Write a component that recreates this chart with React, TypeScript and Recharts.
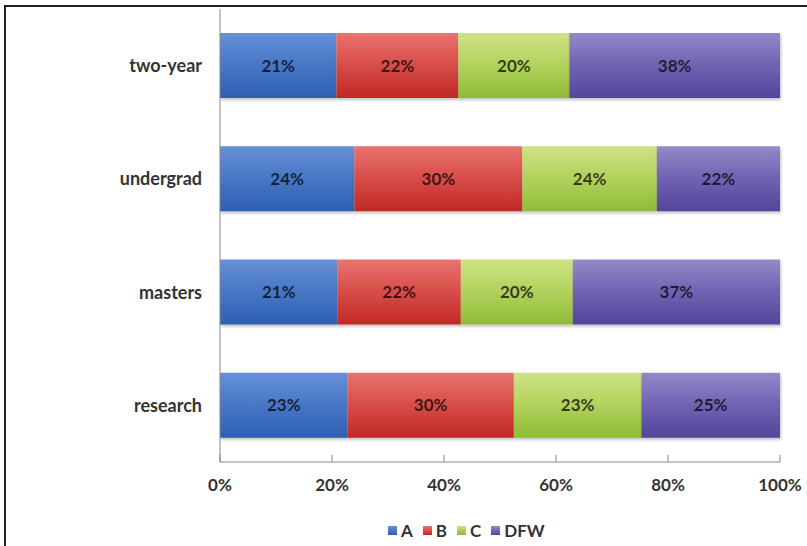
import { BarChart, Bar, XAxis, YAxis, LabelList } from 'recharts';

const categories = ['two-year', 'undergrad', 'masters', 'research'];
const seriesA = [21, 24, 21, 23];
const seriesB = [22, 30, 22, 30];
const seriesC = [20, 24, 20, 23];
const seriesDFW = [38, 22, 37, 25];
const xTicks = [0, 0.2, 0.4, 0.6, 0.8, 1];

const series = [
  { key: 'A', top: '#6690d8', mid: '#4a79c7', bottom: '#2c5fb3' },
  { key: 'B', top: '#ea7370', mid: '#d9504c', bottom: '#c12825' },
  { key: 'C', top: '#cde384', mid: '#b5d360', bottom: '#8fbb36' },
  { key: 'DFW', top: '#928ac9', mid: '#7266b4', bottom: '#52459b' },
];

const data = categories.map((name, i) => ({
  name,
  A: seriesA[i],
  B: seriesB[i],
  C: seriesC[i],
  DFW: seriesDFW[i],
}));

const FONT = "Lato, 'Open Sans', sans-serif";

export default function App() {
  return (
    <div style={{ position: 'relative', width: 807, height: 546, background: '#fff' }}>
      <style>{`body{margin:0}`}</style>
      {/* frame of the scanned figure, cut off at right and bottom */}
      <div
        style={{
          position: 'absolute',
          left: 4,
          top: 5,
          width: 803,
          height: 541,
          borderTop: '2px solid #222',
          borderLeft: '2px solid #222',
          pointerEvents: 'none',
        }}
      />
      <BarChart
        width={807}
        height={546}
        data={data}
        layout="vertical"
        stackOffset="expand"
        barSize={65}
        margin={{ top: 9, right: 27, left: 0, bottom: 54 }}
      >
        <defs>
          {series.map(s => (
            <linearGradient key={s.key} id={`grad${s.key}`} x1="0" y1="0" x2="0" y2="1">
              <stop offset="0%" stopColor={s.top} />
              <stop offset="45%" stopColor={s.mid} />
              <stop offset="100%" stopColor={s.bottom} />
            </linearGradient>
          ))}
          <filter id="barShadow" x="-5%" y="-10%" width="110%" height="130%">
            <feDropShadow dx="1" dy="2" stdDeviation="1.5" floodColor="#000" floodOpacity="0.25" />
          </filter>
        </defs>
        <XAxis
          type="number"
          domain={[0, 1]}
          ticks={xTicks}
          tickFormatter={(v: number) => `${Math.round(v * 100)}%`}
          stroke="#888"
          tickSize={-7}
          tickMargin={24}
          height={30}
          tick={{ fontFamily: FONT, fontSize: 17, fontWeight: 700, fill: '#333' }}
          interval={0}
        />
        <YAxis
          type="category"
          dataKey="name"
          width={220}
          stroke="#888"
          tickLine={false}
          tickMargin={12}
          tick={{ fontFamily: FONT, fontSize: 18, fontWeight: 700, fill: '#333' }}
        />
        {series.map(s => (
          <Bar
            key={s.key}
            dataKey={s.key}
            stackId="x"
            fill={`url(#grad${s.key})`}
            filter="url(#barShadow)"
            isAnimationActive={false}
          >
            <LabelList
              dataKey={s.key}
              position="center"
              formatter={(v: number) => `${v}%`}
              style={{ fontFamily: FONT, fontSize: 17, fontWeight: 700, fill: '#000', fillOpacity: 0.72 }}
            />
          </Bar>
        ))}
      </BarChart>
      <div
        style={{
          position: 'absolute',
          left: 388,
          top: 520,
          display: 'flex',
          alignItems: 'center',
          fontFamily: FONT,
          fontSize: 17,
          fontWeight: 700,
          color: '#333',
        }}
      >
        {series.map(s => (
          <div key={s.key} style={{ display: 'flex', alignItems: 'center', marginRight: 10 }}>
            <span
              style={{
                display: 'inline-block',
                width: 9,
                height: 9,
                marginRight: 4,
                background: `linear-gradient(${s.top}, ${s.bottom})`,
              }}
            />
            {s.key}
          </div>
        ))}
      </div>
    </div>
  );
}
